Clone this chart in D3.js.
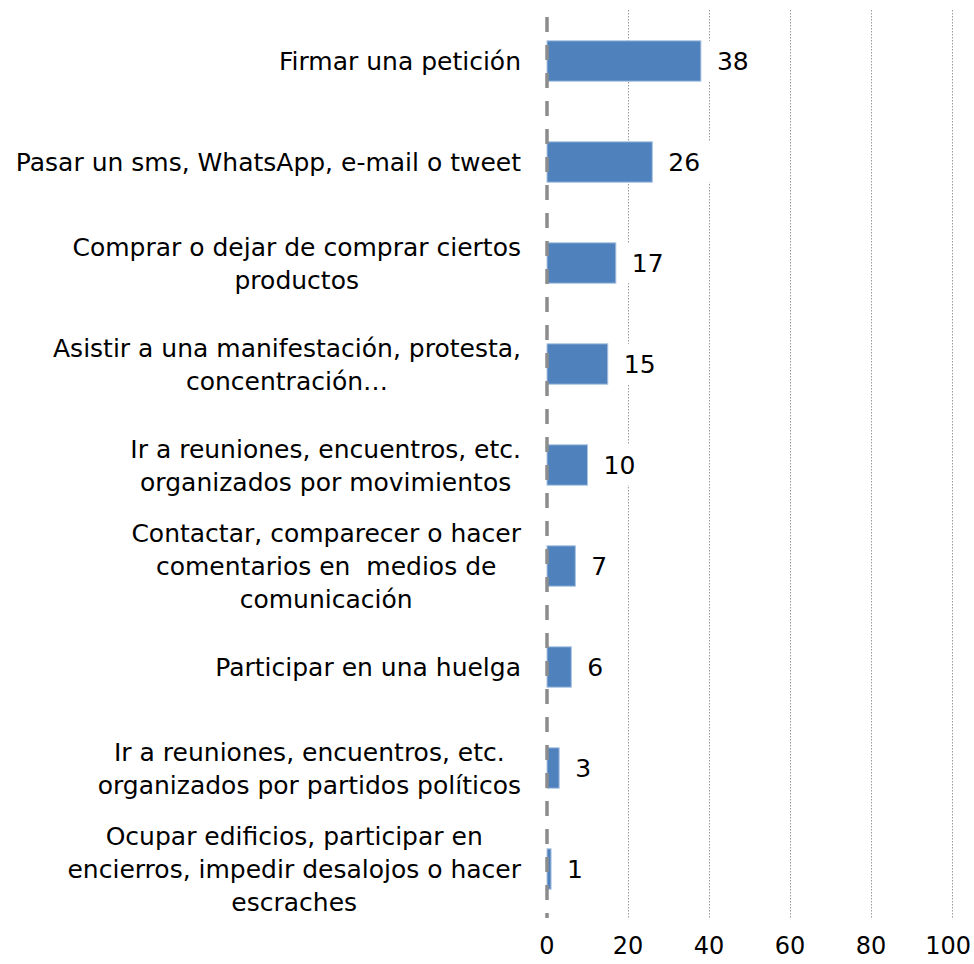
<!DOCTYPE html>
<meta charset="utf-8">
<style>
    body { margin: 0; background: #fff; }
    text { font-family: "DejaVu Sans", sans-serif; font-size: 25px; fill: #000; white-space: pre; }
    .tick-label { font-size: 24px; }
    .grid line { stroke: #9a9a9a; stroke-width: 1; stroke-dasharray: 1.5,1.5; }
    .zero { stroke: #8c8c8c; stroke-width: 3.5; stroke-dasharray: 15,13; }
    .bar { fill: #4f81bd; stroke: #a9c2e2; stroke-width: 1; }
</style>
<script src="https://d3js.org/d3.v7.min.js"></script>
<svg width="974" height="964"></svg>
<script>
    // categories, one label line per array entry
    let categories = [
        ["Firmar una petición"],
        ["Pasar un sms, WhatsApp, e-mail o tweet"],
        ["Comprar o dejar de comprar ciertos", "productos"],
        ["Asistir a una manifestación, protesta,", "concentración…"],
        ["Ir a reuniones, encuentros, etc.", "organizados por movimientos"],
        ["Contactar, comparecer o hacer", "comentarios en  medios de", "comunicación"],
        ["Participar en una huelga"],
        ["Ir a reuniones, encuentros, etc.", "organizados por partidos políticos"],
        ["Ocupar edificios, participar en", "encierros, impedir desalojos o hacer", "escraches"]
    ];
    let values = [38, 26, 17, 15, 10, 7, 6, 3, 1];
    let ticks = [0, 20, 40, 60, 80, 100];

    let svg = d3.select("svg");
    let width = +svg.attr("width");
    let x = d3.scaleLinear().domain([0, 100]).range([547, 952]);
    let y = d3.scaleBand()
        .domain(d3.range(values.length))
        .range([10.5, 919.5])
        .paddingInner(0.6)
        .paddingOuter(0.3);
    let plotTop = 10, plotBottom = 918;
    let lineH = 33;

    // dotted gridlines
    svg.append("g").attr("class", "grid")
        .selectAll("line")
        .data(ticks.slice(1))
        .enter().append("line")
        .attr("x1", function(d) { return Math.round(x(d)) + 0.5; })
        .attr("x2", function(d) { return Math.round(x(d)) + 0.5; })
        .attr("y1", plotTop)
        .attr("y2", plotBottom);

    // bars
    svg.append("g").selectAll("rect")
        .data(values)
        .enter().append("rect")
        .attr("class", "bar")
        .attr("x", x(0))
        .attr("y", function(d, i) { return y(i); })
        .attr("width", function(d) { return x(d) - x(0); })
        .attr("height", y.bandwidth());

    // value labels with white box behind them
    let lab = svg.append("g").selectAll("g")
        .data(values)
        .enter().append("g");
    lab.append("rect")
        .attr("fill", "#fff")
        .attr("y", function(d, i) { return y(i); })
        .attr("height", y.bandwidth());
    lab.append("text")
        .attr("x", function(d) { return x(d) + 16; })
        .attr("y", function(d, i) { return y(i) + y.bandwidth() / 2; })
        .attr("dy", "0.36em")
        .text(function(d) { return d; });
    lab.each(function(d) {
        let t = d3.select(this).select("text");
        let w = t.node().getComputedTextLength();
        d3.select(this).select("rect")
            .attr("x", x(d) + 6)
            .attr("width", w + 20);
    });

    // zero axis, dashed, drawn over the bars
    svg.append("line")
        .attr("class", "zero")
        .attr("x1", x(0)).attr("x2", x(0))
        .attr("y1", plotTop).attr("y2", plotBottom)
        .attr("stroke-dashoffset", 21);

    // category labels, centred block, right edge at 521
    let cat = svg.append("g").selectAll("text")
        .data(categories)
        .enter().append("text")
        .attr("text-anchor", "middle");
    cat.each(function(lines, i) {
        let t = d3.select(this);
        let cy = y(i) + y.bandwidth() / 2 - (lines.length - 1) * lineH / 2;
        lines.forEach(function(s, k) {
            t.append("tspan")
                .attr("y", cy + k * lineH)
                .attr("dy", "0.36em")
                .text(s);
        });
        let maxW = d3.max(t.selectAll("tspan").nodes(), function(n) { return n.getComputedTextLength(); });
        t.selectAll("tspan").attr("x", 521 - maxW / 2);
    });

    // tick labels, the last one kept inside the page
    svg.append("g").selectAll("text")
        .data(ticks)
        .enter().append("text")
        .attr("class", "tick-label")
        .attr("text-anchor", "middle")
        .attr("y", 945)
        .attr("dy", "0.36em")
        .text(function(d) { return d; })
        .attr("x", function(d) {
            let w = this.getComputedTextLength();
            return Math.min(x(d), width - 3 - w / 2);
        });
</script>
